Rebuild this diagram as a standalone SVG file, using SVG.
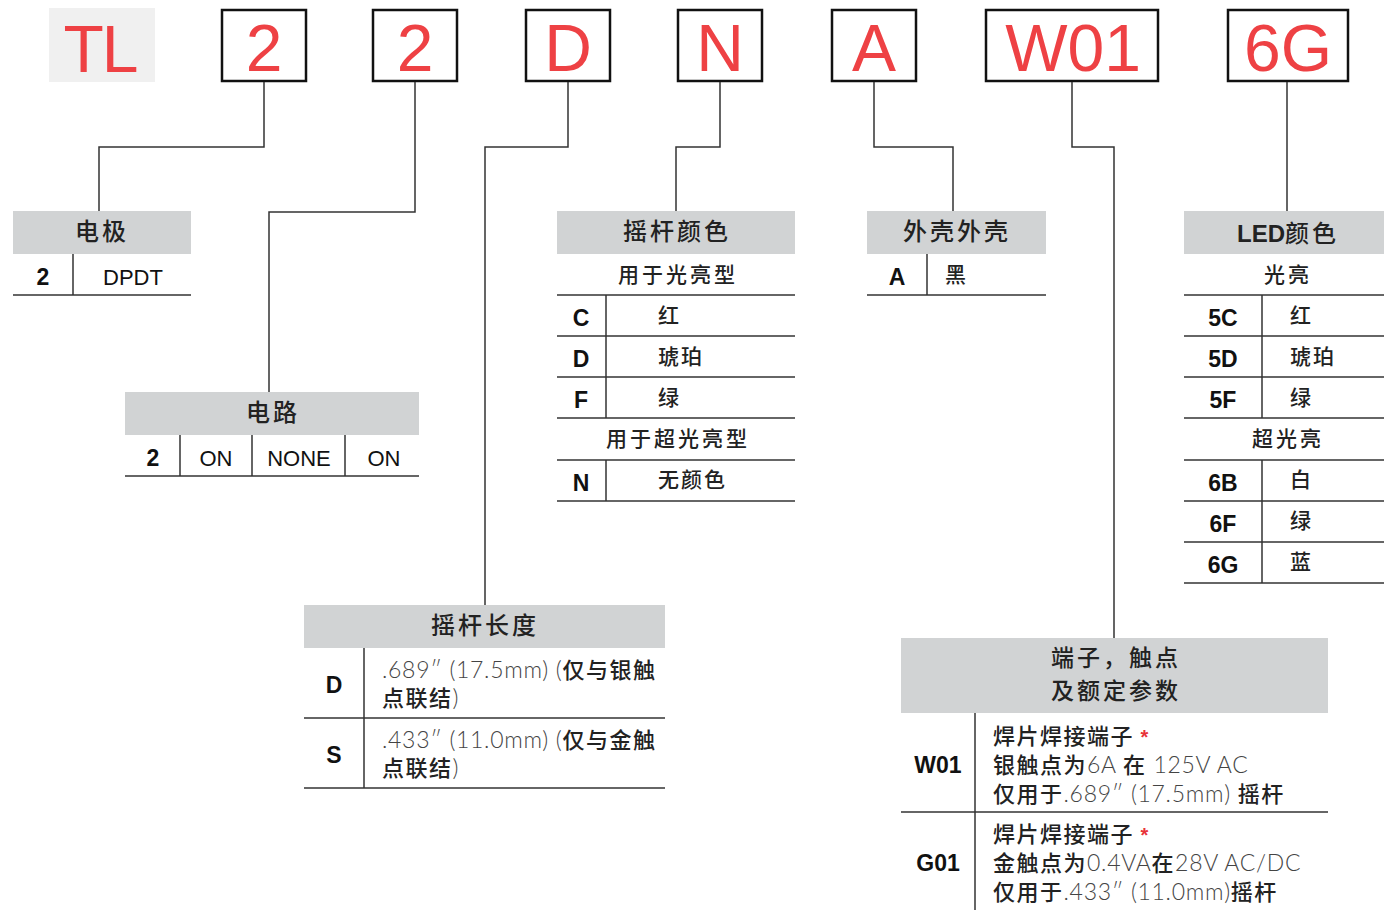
<svg xmlns="http://www.w3.org/2000/svg" width="1384" height="910" viewBox="0 0 1384 910">
<style>
.box{fill:#fff;stroke:#111;stroke-width:2.5}
.code{font-family:"Liberation Sans",Arial,sans-serif;font-size:66px;fill:#ee4144;text-anchor:middle}
.hdr{fill:#d1d3d4}
.ht{font-family:"Noto Sans CJK SC",sans-serif;font-size:24px;font-weight:500;fill:#222;text-anchor:middle;letter-spacing:3px}
.ht2{font-family:"Noto Sans CJK SC",sans-serif;font-size:23px;font-weight:500;fill:#222;text-anchor:middle;letter-spacing:3px}
.sub{font-family:"Noto Sans CJK SC",sans-serif;font-size:21px;font-weight:500;fill:#222;text-anchor:middle;letter-spacing:3px}
.cn{font-family:"Noto Sans CJK SC",sans-serif;font-size:21px;font-weight:500;fill:#222;letter-spacing:2px}
.k{font-family:"Liberation Sans",Arial,sans-serif;font-size:23px;font-weight:bold;fill:#111;text-anchor:middle}
.v{font-family:"Liberation Sans",Arial,sans-serif;font-size:22px;fill:#111;text-anchor:middle}
.lt{font-family:Lato,"Liberation Sans",sans-serif;font-weight:300;fill:#444;font-size:23px;letter-spacing:0.7px}
.d{font-family:"Noto Sans CJK SC",sans-serif;font-size:22px;font-weight:500;fill:#222;letter-spacing:1.5px}
.ln{stroke:#333;stroke-width:1.5;fill:none}
.red{fill:#e8333a}
</style>

<g id="codes">
  <rect x="49" y="8" width="106" height="74" fill="#f0f0f0"/>
  <text class="code" x="100" y="72" font-size="62" letter-spacing="-2">TL</text>
  <rect class="box" x="222" y="10" width="84" height="71"/><text class="code" x="264" y="71">2</text>
  <rect class="box" x="373" y="10" width="84" height="71"/><text class="code" x="415" y="71">2</text>
  <rect class="box" x="526" y="10" width="84" height="71"/><text class="code" x="568" y="71">D</text>
  <rect class="box" x="678" y="10" width="84" height="71"/><text class="code" x="720" y="71">N</text>
  <rect class="box" x="832" y="10" width="84" height="71"/><text class="code" x="874" y="71">A</text>
  <rect class="box" x="986" y="10" width="172" height="71"/><text class="code" x="1073" y="71">W01</text>
  <rect class="box" x="1228" y="10" width="120" height="71"/><text class="code" x="1288" y="71">6G</text>
</g>

<g id="connectors" class="ln">
  <polyline points="264,82 264,147 99,147 99,211"/>
  <polyline points="415,82 415,212 269,212 269,392"/>
  <polyline points="568,82 568,147 485,147 485,605"/>
  <polyline points="720,82 720,147 676,147 676,211"/>
  <polyline points="874,82 874,147 953,147 953,211"/>
  <polyline points="1072,82 1072,147 1114,147 1114,638"/>
  <polyline points="1287,82 1287,211"/>
</g>

<g id="poles">
  <rect class="hdr" x="13" y="211" width="178" height="43"/>
  <text class="ht" x="102" y="240">电极</text>
  <text class="k" x="43" y="285">2</text>
  <text class="v" x="133" y="285">DPDT</text>
  <line class="ln" x1="73" y1="254" x2="73" y2="295"/>
  <line class="ln" x1="13" y1="295" x2="191" y2="295"/>
</g>

<g id="circuit">
  <rect class="hdr" x="125" y="392" width="294" height="43"/>
  <text class="ht" x="273" y="421">电路</text>
  <text class="k" x="153" y="466">2</text>
  <text class="v" x="216" y="466">ON</text>
  <text class="v" x="299" y="466">NONE</text>
  <text class="v" x="384" y="466">ON</text>
  <line class="ln" x1="180" y1="435" x2="180" y2="476"/>
  <line class="ln" x1="252" y1="435" x2="252" y2="476"/>
  <line class="ln" x1="345" y1="435" x2="345" y2="476"/>
  <line class="ln" x1="125" y1="476" x2="419" y2="476"/>
</g>

<g id="actuator-color">
  <rect class="hdr" x="557" y="211" width="238" height="43"/>
  <text class="ht" x="677" y="240">摇杆颜色</text>
  <text class="sub" x="678" y="282">用于光亮型</text>
  <line class="ln" x1="557" y1="295" x2="795" y2="295"/>
  <text class="k" x="581" y="326">C</text><text class="cn" x="658" y="323">红</text>
  <line class="ln" x1="557" y1="336" x2="795" y2="336"/>
  <text class="k" x="581" y="367">D</text><text class="cn" x="658" y="364">琥珀</text>
  <line class="ln" x1="557" y1="377" x2="795" y2="377"/>
  <text class="k" x="581" y="408">F</text><text class="cn" x="658" y="405">绿</text>
  <line class="ln" x1="557" y1="418" x2="795" y2="418"/>
  <line class="ln" x1="606" y1="295" x2="606" y2="418"/>
  <text class="sub" x="678" y="446">用于超光亮型</text>
  <line class="ln" x1="557" y1="460" x2="795" y2="460"/>
  <text class="k" x="581" y="491">N</text><text class="cn" x="658" y="487">无颜色</text>
  <line class="ln" x1="606" y1="460" x2="606" y2="501"/>
  <line class="ln" x1="557" y1="501" x2="795" y2="501"/>
</g>

<g id="housing">
  <rect class="hdr" x="867" y="211" width="179" height="43"/>
  <text class="ht" x="957" y="240">外壳外壳</text>
  <text class="k" x="897" y="285">A</text>
  <text class="cn" x="945" y="282">黑</text>
  <line class="ln" x1="927" y1="254" x2="927" y2="295"/>
  <line class="ln" x1="867" y1="295" x2="1046" y2="295"/>
</g>

<g id="led-color">
  <rect class="hdr" x="1184" y="211" width="200" height="43"/>
  <text class="ht" x="1288" y="242"><tspan font-family="Liberation Sans,Arial,sans-serif" font-weight="bold" letter-spacing="0">LED</tspan>颜色</text>
  <text class="sub" x="1288" y="282">光亮</text>
  <line class="ln" x1="1184" y1="295" x2="1384" y2="295"/>
  <text class="k" x="1223" y="326">5C</text><text class="cn" x="1290" y="323">红</text>
  <line class="ln" x1="1184" y1="336" x2="1384" y2="336"/>
  <text class="k" x="1223" y="367">5D</text><text class="cn" x="1290" y="364">琥珀</text>
  <line class="ln" x1="1184" y1="377" x2="1384" y2="377"/>
  <text class="k" x="1223" y="408">5F</text><text class="cn" x="1290" y="405">绿</text>
  <line class="ln" x1="1184" y1="418" x2="1384" y2="418"/>
  <line class="ln" x1="1262" y1="295" x2="1262" y2="418"/>
  <text class="sub" x="1288" y="446">超光亮</text>
  <line class="ln" x1="1184" y1="460" x2="1384" y2="460"/>
  <text class="k" x="1223" y="491">6B</text><text class="cn" x="1290" y="487">白</text>
  <line class="ln" x1="1184" y1="501" x2="1384" y2="501"/>
  <text class="k" x="1223" y="532">6F</text><text class="cn" x="1290" y="528">绿</text>
  <line class="ln" x1="1184" y1="542" x2="1384" y2="542"/>
  <text class="k" x="1223" y="573">6G</text><text class="cn" x="1290" y="569">蓝</text>
  <line class="ln" x1="1262" y1="460" x2="1262" y2="583"/>
  <line class="ln" x1="1184" y1="583" x2="1384" y2="583"/>
</g>

<g id="actuator-length">
  <rect class="hdr" x="304" y="605" width="361" height="43"/>
  <text class="ht" x="485" y="634">摇杆长度</text>
  <text class="k" x="334" y="693">D</text>
  <text x="382" y="678"><tspan class="lt">.689″ (17.5mm) (</tspan><tspan class="d">仅与银触</tspan></text>
  <text x="382" y="706"><tspan class="d">点联结</tspan><tspan class="lt">)</tspan></text>
  <line class="ln" x1="304" y1="718" x2="665" y2="718"/>
  <text class="k" x="334" y="763">S</text>
  <text x="382" y="748"><tspan class="lt">.433″ (11.0mm) (</tspan><tspan class="d">仅与金触</tspan></text>
  <text x="382" y="776"><tspan class="d">点联结</tspan><tspan class="lt">)</tspan></text>
  <line class="ln" x1="364" y1="648" x2="364" y2="788"/>
  <line class="ln" x1="304" y1="788" x2="665" y2="788"/>
</g>

<g id="terminals">
  <rect class="hdr" x="901" y="638" width="427" height="75"/>
  <text class="ht2" x="1116" y="666">端子，触点</text>
  <text class="ht2" x="1116" y="699">及额定参数</text>
  <text class="k" x="938" y="773">W01</text>
  <text x="993" y="744"><tspan class="d">焊片焊接端子 </tspan><tspan class="red" font-family="Liberation Sans,sans-serif" font-weight="bold" font-size="20">*</tspan></text>
  <text x="993" y="773"><tspan class="d">银触点为</tspan><tspan class="lt">6A </tspan><tspan class="d">在</tspan><tspan class="lt"> 125V AC</tspan></text>
  <text x="993" y="802"><tspan class="d">仅用于</tspan><tspan class="lt">.689″ (17.5mm) </tspan><tspan class="d">摇杆</tspan></text>
  <line class="ln" x1="901" y1="812" x2="1328" y2="812"/>
  <text class="k" x="938" y="871">G01</text>
  <text x="993" y="842"><tspan class="d">焊片焊接端子 </tspan><tspan class="red" font-family="Liberation Sans,sans-serif" font-weight="bold" font-size="20">*</tspan></text>
  <text x="993" y="871"><tspan class="d">金触点为</tspan><tspan class="lt">0.4VA</tspan><tspan class="d">在</tspan><tspan class="lt">28V AC/DC</tspan></text>
  <text x="993" y="900"><tspan class="d">仅用于</tspan><tspan class="lt">.433″ (11.0mm)</tspan><tspan class="d">摇杆</tspan></text>
  <line class="ln" x1="975" y1="713" x2="975" y2="910"/>
</g>
</svg>
